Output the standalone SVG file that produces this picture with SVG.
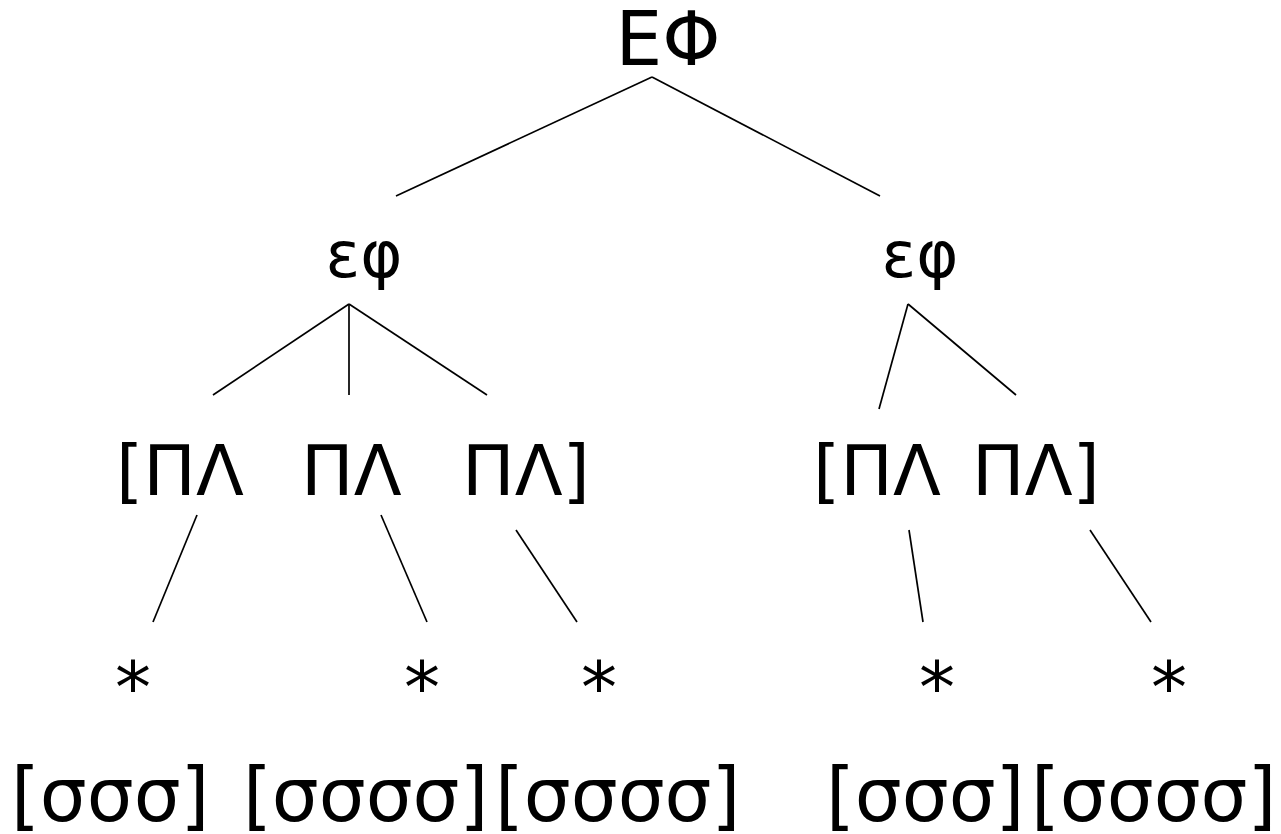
<svg xmlns="http://www.w3.org/2000/svg" width="1281" height="834" viewBox="0 0 1281 834">
<style>
text{font-family:"DejaVu Sans","Noto Sans",sans-serif;fill:#000}
.t0{font-size:74px}
.t1{font-size:64px}
.t2{font-size:70px}
.t3{font-size:72px}
.t4{font-size:74px}
line{stroke:#000;stroke-width:1.7}
</style>
<rect width="1281" height="834" fill="#fff"/>
<g id="root"><text class="t0" x="668" y="65" text-anchor="middle">ΕΦ</text></g>
<g id="ef1"><text class="t1" x="364" y="277" text-anchor="middle">εφ</text></g>
<g id="ef2"><text class="t1" x="920" y="277" text-anchor="middle">εφ</text></g>
<g id="pl1"><text class="t2" x="116" y="495">[ΠΛ</text></g>
<g id="pl2"><text class="t2" x="301" y="495">ΠΛ</text></g>
<g id="pl3"><text class="t2" x="462" y="495">ΠΛ]</text></g>
<g id="pl4"><text class="t2" x="813" y="495">[ΠΛ</text></g>
<g id="pl5"><text class="t2" x="972" y="495">ΠΛ]</text></g>
<g id="st1"><text class="t3" x="133" y="712" text-anchor="middle">*</text></g>
<g id="st2"><text class="t3" x="422" y="712" text-anchor="middle">*</text></g>
<g id="st3"><text class="t3" x="599" y="712" text-anchor="middle">*</text></g>
<g id="st4"><text class="t3" x="937" y="712" text-anchor="middle">*</text></g>
<g id="st5"><text class="t3" x="1169" y="712" text-anchor="middle">*</text></g>
<g id="s1"><text class="t4" x="11" y="821">[σσσ]</text></g>
<g id="s2"><text class="t4" x="243" y="821">[σσσσ]</text></g>
<g id="s3"><text class="t4" x="495" y="821">[σσσσ]</text></g>
<g id="s4"><text class="t4" x="826" y="821">[σσσ]</text></g>
<g id="s5"><text class="t4" x="1031" y="821">[σσσσ]</text></g>
<g id="connectors">
<line x1="652" y1="77" x2="396" y2="196"/>
<line x1="652" y1="77" x2="880" y2="196"/>
<line x1="349" y1="304" x2="213" y2="395"/>
<line x1="349" y1="304" x2="349" y2="395"/>
<line x1="349" y1="304" x2="487" y2="395"/>
<line x1="908" y1="304" x2="879" y2="409"/>
<line x1="908" y1="304" x2="1016" y2="395"/>
<line x1="197" y1="515" x2="153" y2="622"/>
<line x1="381" y1="515" x2="427" y2="622"/>
<line x1="516" y1="530" x2="577" y2="622"/>
<line x1="909" y1="530" x2="923" y2="622"/>
<line x1="1090" y1="530" x2="1151" y2="622"/>
</g>
</svg>
